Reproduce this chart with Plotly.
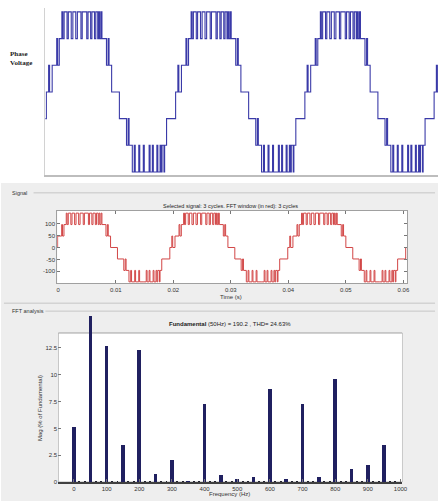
import plotly.graph_objects as go

# ---------------- data ----------------
# One cycle of the multilevel staircase:
# switching instants (ms, relative to the centre of the positive peak) and level after each instant
CYCLE_T_MS = [-10.0, -9.6, -9.45, -9.1, -8.95, -8.4, -8.25, -7.9, -7.75, -7.6, -7.3, -7.2,
              -6.9, -5.5, -5.15, -5.0, -4.6, -3.9, -3.75, -3.5, -3.1, -2.95, -2.75,
              -2.3, -2.1, -1.65, -1.4, -0.95, -0.7, -0.15, 0.05, 0.75, 0.95, 1.35, 1.55,
              1.95, 2.15, 2.45, 2.6, 2.75, 2.95, 3.1, 3.8, 4.05, 4.2, 4.6, 5.8, 6.9,
              7.15, 7.3, 7.8, 8.1, 8.25, 8.8, 8.95, 9.5, 9.65]
CYCLE_LEVEL = [-3, -2, -3, -2, -3, -2, -3, -2, -3, -2, -3, -2,
               -1, 0, 1, 0, 1, 2, 1, 2, 3, 2, 3,
               2, 3, 2, 3, 2, 3, 2, 3, 2, 3, 2, 3,
               2, 3, 2, 3, 2, 3, 2, 1, 2, 1, 0, -1, -2,
               -1, -2, -3, -2, -3, -2, -3, -2, -3]

# panel 1 (phase voltage): peak centres in ms
PEAKS_MS_1 = [-15.0, 5.0, 25.0, 45.0, 65.0]
# panel 2 (selected signal): peak centres in s, volts per level
PEAKS_S_2 = [-0.0159, 0.0045, 0.0249, 0.0454, 0.0659]
LEVEL_VOLTS = 48

# panel 2 axis ticks
T_TICKS = [0, 0.01, 0.02, 0.03, 0.04, 0.05, 0.06]
T_LABELS = ["0", "0.01", "0.02", "0.03", "0.04", "0.05", "0.06"]
V_TICKS = [-100, -50, 0, 50, 100]
V_LABELS = ["-100", "-50", "0", "50", "100"]

# panel 3: FFT spectrum (% of fundamental)
HARM_FREQ = [0, 50, 100, 150, 200, 250, 300, 350, 400, 450, 500, 550, 600, 650, 700, 750, 800, 850, 900, 950]
HARM_MAG = [5.1, 15.5, 12.65, 3.45, 12.35, 0.77, 2.1, 0.12, 7.3, 0.62, 0.3, 0.46, 8.64, 0.3, 7.3, 0.46, 9.56, 1.23, 1.6, 3.45]
MINOR_FREQ = [16.7, 33.3, 66.7, 83.3, 116.7, 133.3, 166.7, 183.3, 216.7, 233.3, 266.7, 283.3,
              316.7, 333.3, 366.7, 383.3, 416.7, 433.3, 466.7, 483.3, 516.7, 533.3, 566.7, 583.3,
              616.7, 633.3, 666.7, 683.3, 716.7, 733.3, 766.7, 783.3, 816.7, 833.3, 866.7, 883.3,
              916.7, 933.3, 966.7, 983.3]
MINOR_MAG = [0.15, 0.1, 0.15, 0.1, 0.15, 0.15, 0.1, 0.15, 0.15, 0.1, 0.15, 0.1,
             0.1, 0.15, 0.1, 0.15, 0.15, 0.1, 0.1, 0.15, 0.15, 0.1, 0.1, 0.15,
             0.15, 0.1, 0.15, 0.1, 0.1, 0.15, 0.15, 0.1, 0.1, 0.15, 0.15, 0.1,
             0.1, 0.15, 0.15, 0.1]
F_TICKS = [0, 100, 200, 300, 400, 500, 600, 700, 800, 900, 1000]
F_LABELS = ["0", "100", "200", "300", "400", "500", "600", "700", "800", "900", "1000"]
M_TICKS = [0, 2.5, 5, 7.5, 10, 12.5]
M_LABELS = ["0", "2.5", "5", "7.5", "10", "12.5"]

# ---------------- geometry helpers ----------------
W, H = 443, 504


def xp(px):
    return px / W


def yp(py):
    return 1 - py / H


# build staircase series
t1, v1 = [], []
for p in PEAKS_MS_1:
    for tau, lv in zip(CYCLE_T_MS, CYCLE_LEVEL):
        t1.append(p + tau)
        v1.append(lv)

t2, v2 = [], []
for p in PEAKS_S_2:
    for tau, lv in zip(CYCLE_T_MS, CYCLE_LEVEL):
        t2.append(p + tau / 1000.0)
        v2.append(lv * LEVEL_VOLTS)

fig = go.Figure()
fig.add_trace(go.Scatter(x=t1, y=v1, mode="lines", xaxis="x", yaxis="y",
                         line=dict(color="#3a3aa8", width=1.1, shape="hv"),
                         hoverinfo="skip", showlegend=False))
fig.add_trace(go.Scatter(x=t2, y=v2, mode="lines", xaxis="x2", yaxis="y2",
                         line=dict(color="#d24646", width=1, shape="hv"),
                         hoverinfo="skip", showlegend=False))
fig.add_trace(go.Bar(x=MINOR_FREQ, y=MINOR_MAG, width=6, marker=dict(color="#222230", line=dict(width=0)),
                     xaxis="x3", yaxis="y3", hoverinfo="skip", showlegend=False))
fig.add_trace(go.Bar(x=HARM_FREQ, y=HARM_MAG, width=11, marker=dict(color="#202060", line=dict(width=0)),
                     xaxis="x3", yaxis="y3", hoverinfo="skip", showlegend=False))

small = dict(family="Liberation Sans, Arial, sans-serif", size=6, color="#333333")

fig.update_layout(
    width=W, height=H, autosize=False,
    margin=dict(l=0, r=0, t=0, b=0),
    paper_bgcolor="white", plot_bgcolor="rgba(0,0,0,0)",
    barmode="overlay", bargap=0,
    font=small,
    xaxis=dict(domain=[xp(45), 1], anchor="y", range=[-0.65, 60.1],
               showline=True, linecolor="#bdbdbd", linewidth=2,
               showticklabels=False, ticks="", showgrid=False, zeroline=False),
    yaxis=dict(domain=[yp(176), yp(8)], anchor="x", range=[-3.112, 3.149],
               showline=True, linecolor="#d2d2d2", linewidth=1.5,
               showticklabels=False, ticks="", showgrid=False, zeroline=False),
    xaxis2=dict(domain=[xp(57), xp(412)], anchor="y2", range=[-0.00017, 0.0607],
                tickvals=T_TICKS, ticktext=T_LABELS, ticks="inside", ticklen=3,
                tickcolor="#777777", showline=True, mirror="ticks", linecolor="#a0a0a0",
                linewidth=1, showgrid=False, zeroline=False, tickfont=small),
    yaxis2=dict(domain=[yp(285), yp(212)], anchor="x2", range=[-150, 154],
                tickvals=V_TICKS, ticktext=V_LABELS, ticks="inside", ticklen=3,
                tickcolor="#777777", showline=True, mirror="ticks", linecolor="#a0a0a0",
                linewidth=1, showgrid=False, zeroline=False, tickfont=small),
    xaxis3=dict(domain=[xp(58), xp(407)], anchor="y3", range=[-48.3, 1006],
                tickvals=F_TICKS, ticktext=F_LABELS, ticks="inside", ticklen=3,
                tickcolor="#777777", showline=True, linecolor="#404040", linewidth=1.5,
                showgrid=False, zeroline=False, tickfont=small),
    yaxis3=dict(domain=[yp(485), yp(315)], anchor="x3", range=[0, 15.74],
                tickvals=M_TICKS, ticktext=M_LABELS, ticks="inside", ticklen=3,
                tickcolor="#777777", showline=False, showgrid=False, zeroline=False,
                tickfont=small),
)

shapes = [
    # grey GUI panel background
    dict(type="rect", xref="paper", yref="paper", x0=0, x1=1, y0=0, y1=yp(184),
         fillcolor="#eeeeee", line=dict(width=0), layer="below"),
    # white plotting area of the signal axes
    dict(type="rect", xref="paper", yref="paper", x0=xp(57), x1=xp(412), y0=yp(285), y1=yp(212),
         fillcolor="white", line=dict(width=0), layer="below"),
    # white plotting area and frame of the FFT axes
    dict(type="rect", xref="x3", yref="y3", x0=-48.3, x1=1006, y0=0, y1=13.89,
         fillcolor="white", line=dict(color="#a0a0a0", width=1), layer="below"),
    # panel border lines
    dict(type="line", xref="paper", yref="paper", x0=xp(33), x1=xp(440), y0=yp(194), y1=yp(194),
         line=dict(color="#c6c6c6", width=1)),
    dict(type="line", xref="paper", yref="paper", x0=xp(3), x1=xp(440), y0=yp(305), y1=yp(305),
         line=dict(color="#c6c6c6", width=1)),
    dict(type="line", xref="paper", yref="paper", x0=xp(45), x1=xp(440), y0=yp(313), y1=yp(313),
         line=dict(color="#c6c6c6", width=1)),
]
fig.update_layout(shapes=shapes)


def label(text, x, y, size=6, xanchor="center", angle=0, family=None, color="#333333"):
    f = dict(size=size, color=color)
    if family:
        f["family"] = family
    return dict(text=text, x=xp(x), y=yp(y), xref="paper", yref="paper",
                xanchor=xanchor, yanchor="middle", showarrow=False, textangle=angle,
                align="left", font=f)


annotations = [
    label("<b>Phase<br>Voltage</b>", 7, 59, size=7, xanchor="left",
          family="Liberation Serif, Times New Roman, serif", color="#1a1a1a"),
    label("Signal", 9, 194, size=5.5, xanchor="left"),
    label("FFT analysis", 9, 313, size=5.5, xanchor="left"),
    label("Selected signal: 3 cycles. FFT window (in red): 3 cycles", 233, 207, size=5.5, color="#222222"),
    label("Time (s)", 233, 299, size=6),
    label("<b>Fundamental</b> (50Hz) = 190.2 , THD= 24.63%", 232, 326, size=6, color="#222222"),
    label("Frequency (Hz)", 232, 497, size=6),
    label("Mag (% of Fundamental)", 39, 410, size=6, angle=-90),
]
fig.update_layout(annotations=annotations)

fig.write_html("out.html",
               config={"displayModeBar": False, "staticPlot": True},
               post_script="document.body.style.margin='0px';"
                           "document.body.style.overflow='hidden';")
